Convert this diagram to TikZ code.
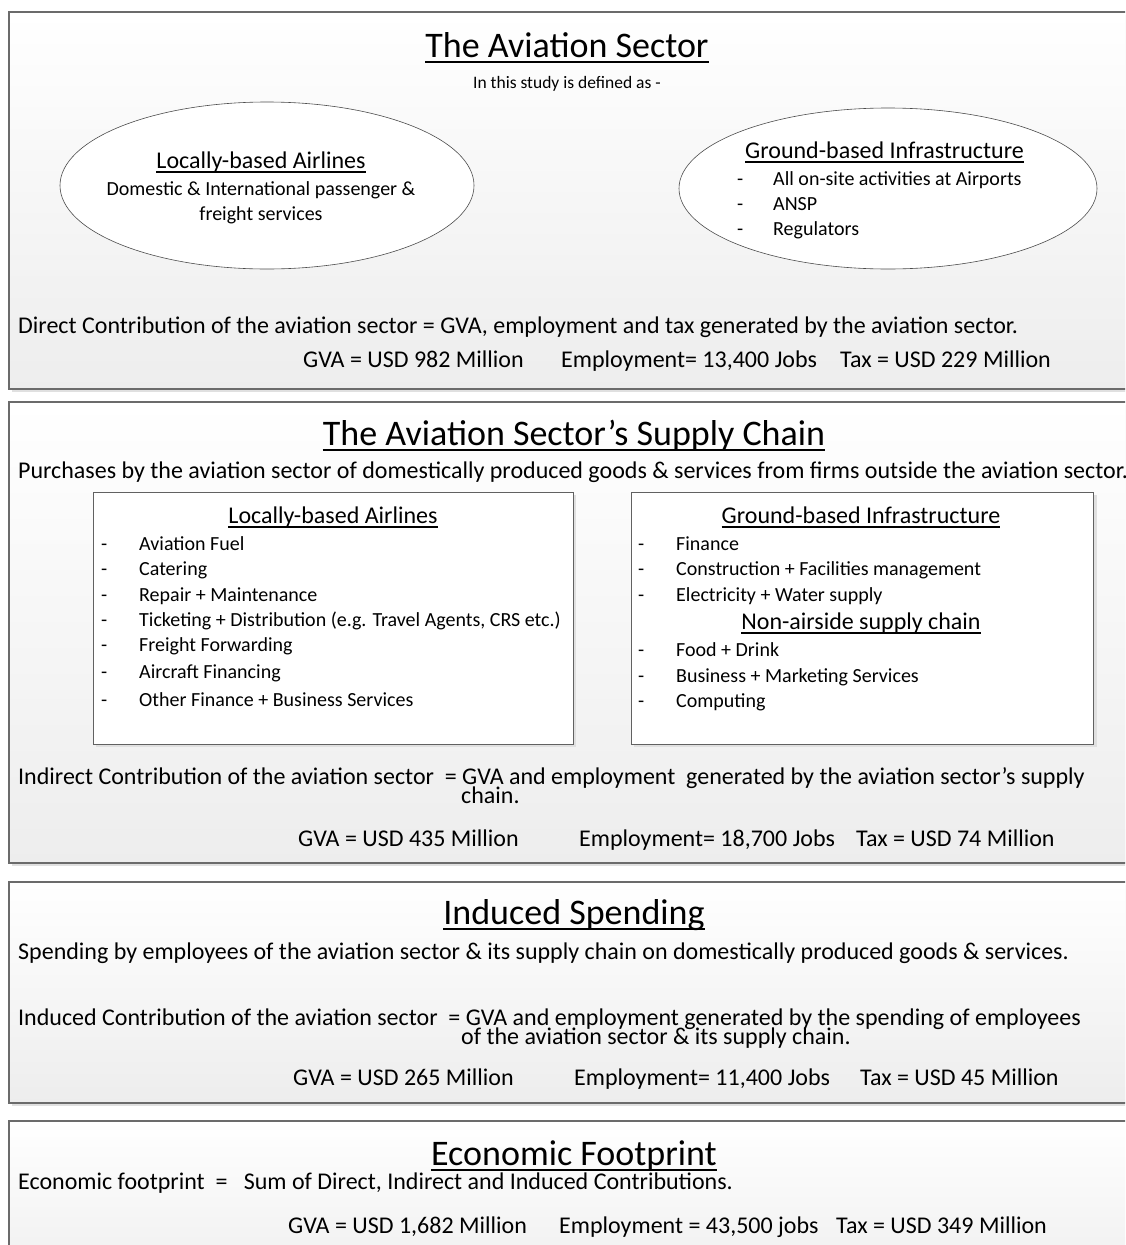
\documentclass[tikz,border=0pt]{standalone}
\usepackage{fontspec}
\setmainfont{Carlito}
\usetikzlibrary{calc}
\begin{document}
\begin{tikzpicture}[x=1pt,y=-1pt,
  panelbox/.style={draw=black!58, line width=1.3pt, top color=white, bottom color=black!7},
  shadowbox/.style={fill=black!12, draw=none},
  innerbox/.style={draw=black!62, line width=1pt, fill=white},
  ellbox/.style={draw=black!70, line width=0.6pt, fill=white},
  txt/.style={inner sep=0pt, anchor=base west, font=\fontsize{24}{28}\selectfont},
  titletxt/.style={inner sep=0pt, anchor=base, font=\fontsize{36}{42}\selectfont},
  headtxt/.style={inner sep=0pt, anchor=base, font=\fontsize{24}{28}\selectfont},
  small/.style={inner sep=0pt, anchor=base west, font=\fontsize{20}{24}\selectfont},
  csmall/.style={inner sep=0pt, anchor=base, font=\fontsize{20}{24}\selectfont},
  tiny/.style={inner sep=0pt, anchor=base, font=\fontsize{17.5}{21}\selectfont}]
\useasboundingbox (0,0) rectangle (1125,1245);
\begin{scope}
\clip (0,0) rectangle (1125,1245);
% panels with shadows
\fill[shadowbox] (12,15) rectangle (1140,392);
\path[panelbox] (9,12) rectangle (1138,389);
\fill[shadowbox] (12,405) rectangle (1140,866);
\path[panelbox] (9,402) rectangle (1138,863);
\fill[shadowbox] (12,885) rectangle (1140,1106);
\path[panelbox] (9,882) rectangle (1138,1103);
\path[panelbox] (9,1121) rectangle (1138,1300);
\end{scope}

% ===== Panel 1 =====
\node[titletxt] (t1) at (567,57) {The Aviation Sector};
\node[tiny] (t1s) at (567,88) {In this study is defined as -};
\path[ellbox] (267,185.5) ellipse [x radius=207, y radius=83.5];
\node (e1) at (267,185.5) {};
\node[headtxt] (e1h) at (261,168) {Locally-based Airlines};
\node[csmall] (e1a) at (261,195) {Domestic \& International passenger \&};
\node[csmall] (e1b) at (261,220) {freight services};
\path[ellbox] (888,188.5) ellipse [x radius=209, y radius=80.5];
\node (e2) at (888,188.5) {};
\node[headtxt] (e2h) at (884.5,158) {Ground-based Infrastructure};
\node[small] (e2d1) at (737,185) {-};
\node[small] (e2a) at (773,185) {All on-site activities at Airports};
\node[small] (e2d2) at (737,210) {-};
\node[small] (e2b) at (773,210) {ANSP};
\node[small] (e2d3) at (737,235) {-};
\node[small] (e2c) at (773,235) {Regulators};
\node[txt] (d1) at (18,333) {Direct Contribution of the aviation sector = GVA, employment and tax generated by the aviation sector.};
\node[txt] (g1) at (303,367) {GVA = USD 982 Million};
\node[txt] (m1) at (561,367) {Employment= 13,400 Jobs};
\node[txt] (x1) at (840,367) {Tax = USD 229 Million};

% ===== Panel 2 =====
\node[titletxt] (t2) at (574,445) {The Aviation Sector’s Supply Chain};
\node[txt] (p2) at (18,478) {Purchases by the aviation sector of domestically produced goods \& services from firms outside the aviation sector.};
\fill[shadowbox] (96,495) rectangle (576,747);
\node[innerbox, minimum width=480pt, minimum height=252pt, anchor=north west] (b1) at (93,492) {};
\node[headtxt] (b1h) at (333,523) {Locally-based Airlines};
\foreach \yy/\tx [count=\i] in {550/Aviation Fuel,575/Catering,601/Repair + Maintenance,626/{Ticketing + Distribution (e.g. Travel Agents, CRS etc.)},651/Freight Forwarding,678/Aircraft Financing,706/Other Finance + Business Services}{
  \node[small] (b1d\i) at (101,\yy) {-};
  \node[small] (b1i\i) at (139,\yy) {\tx};
}
\fill[shadowbox] (634,495) rectangle (1097,747);
\node[innerbox, minimum width=462pt, minimum height=252pt, anchor=north west] (b2) at (631,492) {};
\node[headtxt] (b2h) at (861,523) {Ground-based Infrastructure};
\foreach \yy/\tx [count=\i] in {550/Finance,575/Construction + Facilities management,601/Electricity + Water supply,656/Food + Drink,682/Business + Marketing Services,707/Computing}{
  \node[small] (b2d\i) at (638,\yy) {-};
  \node[small] (b2i\i) at (676,\yy) {\tx};
}
\node[headtxt] (b2h2) at (861,629) {Non-airside supply chain};
\node[txt] (i2) at (18,784) {Indirect Contribution of the aviation sector\ \ = GVA and employment\ \ generated by the aviation sector’s supply};
\node[txt] (i2b) at (461,803) {chain.};
\node[txt] (g2) at (298,846) {GVA = USD 435 Million};
\node[txt] (m2) at (579,846) {Employment= 18,700 Jobs};
\node[txt] (x2) at (856,846) {Tax = USD 74 Million};

% ===== Panel 3 =====
\node[titletxt] (t3) at (574,924) {Induced Spending};
\node[txt] (s3) at (18,959) {Spending by employees of the aviation sector \& its supply chain on domestically produced goods \& services.};
\node[txt] (i3) at (18,1025) {Induced Contribution of the aviation sector\ \ = GVA and employment generated by the spending of employees};
\node[txt] (i3b) at (461,1044) {of the aviation sector \& its supply chain.};
\node[txt] (g3) at (293,1085) {GVA = USD 265 Million};
\node[txt] (m3) at (574,1085) {Employment= 11,400 Jobs};
\node[txt] (x3) at (860,1085) {Tax = USD 45 Million};

% ===== Panel 4 =====
\node[titletxt] (t4) at (574,1165) {Economic Footprint};
\node[txt] (s4) at (18,1189) {Economic footprint\ \ =\ \ \ Sum of Direct, Indirect and Induced Contributions.};
\node[txt] (g4) at (288,1233) {GVA = USD 1,682 Million};
\node[txt] (m4) at (559,1233) {Employment = 43,500 jobs};
\node[txt] (x4) at (836,1233) {Tax = USD 349 Million};

% underlines
\foreach \n/\w/\d in {t1/2.6/5,t2/2.6/5,t3/2.6/5,t4/2.6/5,e1h/1.2/4,e2h/1.2/4,b1h/1.2/4,b2h/1.2/4,b2h2/1.2/4}{
  \draw[line width=\w pt] ($(\n.base west)+(0,\d)$) -- ($(\n.base east)+(0,\d)$);
}
\end{tikzpicture}
\end{document}
